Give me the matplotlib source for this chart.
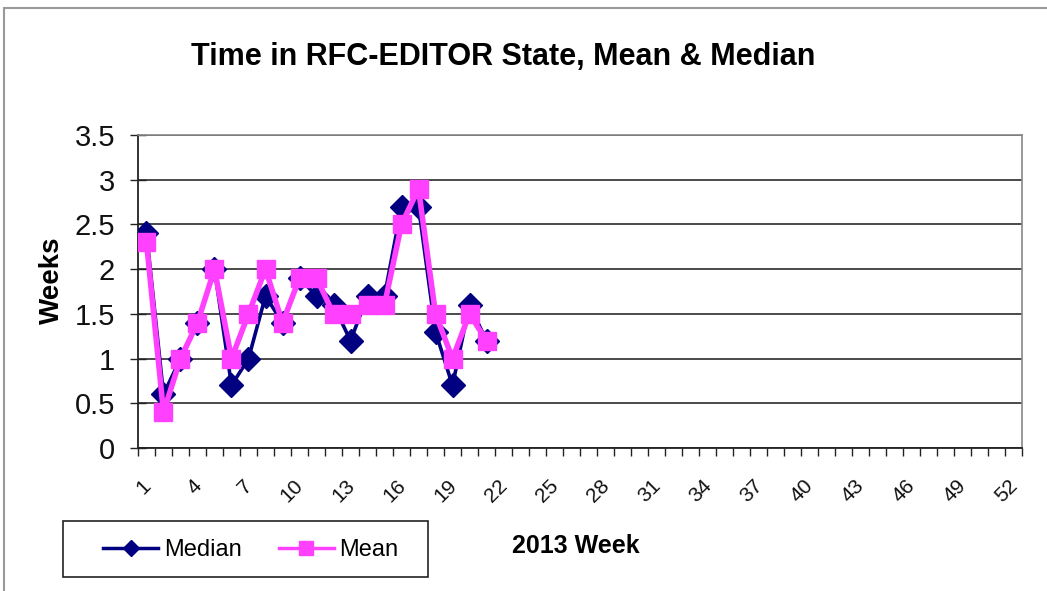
import matplotlib
matplotlib.use("Agg")
import matplotlib.pyplot as plt
from matplotlib.patches import Rectangle
from matplotlib.lines import Line2D
from matplotlib.transforms import blended_transform_factory

weeks = list(range(1, 22))
median = [2.4, 0.6, 1.0, 1.4, 2.0, 0.7, 1.0, 1.7, 1.4, 1.9, 1.7, 1.6, 1.2, 1.7, 1.7, 2.7, 2.7, 1.3, 0.7, 1.6, 1.2]
mean = [2.3, 0.4, 1.0, 1.4, 2.0, 1.0, 1.5, 2.0, 1.4, 1.9, 1.9, 1.5, 1.5, 1.6, 1.6, 2.5, 2.9, 1.5, 1.0, 1.5, 1.2]
xtick_labels = [str(w) for w in range(1, 53, 3)]
yticks = [0, 0.5, 1, 1.5, 2, 2.5, 3, 3.5]
ytick_labels = ['0', '0.5', '1', '1.5', '2', '2.5', '3', '3.5']

NAVY = '#000080'
PINK = '#FF40FF'

plt.rcParams['font.family'] = ['Liberation Sans', 'DejaVu Sans']

W, H = 1047, 591
fig = plt.figure(figsize=(W / 100, H / 100), dpi=100)

def fx(px):
    return px / W

def fy(py):
    return 1 - py / H

# outer chart frame
fig.patches.append(Rectangle((fx(4), fy(600)), 1.2, (600 - 8) / H, transform=fig.transFigure,
                             fill=False, edgecolor='#999999', linewidth=1.5))

ax = fig.add_axes([fx(138), fy(448), (1022 - 138) / W, (448 - 135) / H])
ax.set_xlim(0.5, 52.5)
ax.set_ylim(0, 3.5)

ax.plot(weeks, median, color=NAVY, lw=2.6, marker='D', markersize=12.5, zorder=3)
ax.plot(weeks, mean, color=PINK, lw=4.0, marker='s', markersize=13, zorder=4)

ax.set_yticks(yticks)
ax.set_yticklabels(ytick_labels, fontsize=21, color='#111111')
ax.yaxis.grid(True, color='#4a4a4a', linewidth=1.4)
ax.set_axisbelow(True)

ax.set_xticks([i + 0.5 for i in range(0, 53)])
ax.set_xticklabels([])
ax.tick_params(axis='x', length=5.5, width=1.0, direction='out', color='#222222')
ax.tick_params(axis='y', length=11, width=1.0, direction='inout', color='#222222', pad=11)

trans = blended_transform_factory(ax.transData, fig.transFigure)
for lab in xtick_labels:
    w = int(lab)
    ax.text(w + 0.45, fy(476), lab, rotation=45, ha='right', va='top',
            fontsize=15, transform=trans, clip_on=False, color='#111111')

for s in ['top', 'right']:
    ax.spines[s].set_color('#888888')
    ax.spines[s].set_linewidth(1.2)
for s in ['left', 'bottom']:
    ax.spines[s].set_color('#222222')
    ax.spines[s].set_linewidth(1.3)

fig.text(fx(52), fy(280), 'Weeks', rotation=90, ha='center', va='center',
         fontsize=20, fontweight='bold')
fig.text(fx(503), fy(57), 'Time in RFC-EDITOR State, Mean & Median', ha='center', va='center',
         fontsize=22, fontweight='bold')
fig.text(fx(576), fy(546), '2013 Week', ha='center', va='center', fontsize=18, fontweight='bold')

# legend
fig.patches.append(Rectangle((fx(63), fy(577)), (428 - 63) / W, (577 - 521) / H,
                             transform=fig.transFigure, fill=False, edgecolor='#222222',
                             linewidth=1.2, zorder=5))
handles = [Line2D([], [], color=NAVY, lw=2.5, marker='D', markersize=8),
           Line2D([], [], color=PINK, lw=2.5, marker='s', markersize=10)]
leg = fig.legend(handles, ['Median', 'Mean'], loc='center', bbox_to_anchor=(fx(251), fy(550)),
                 ncol=2, fontsize=17, frameon=False, handlelength=2.3, handletextpad=0.25,
                 columnspacing=1.6, borderpad=0.2)

fig.savefig('out.png', dpi=100)
